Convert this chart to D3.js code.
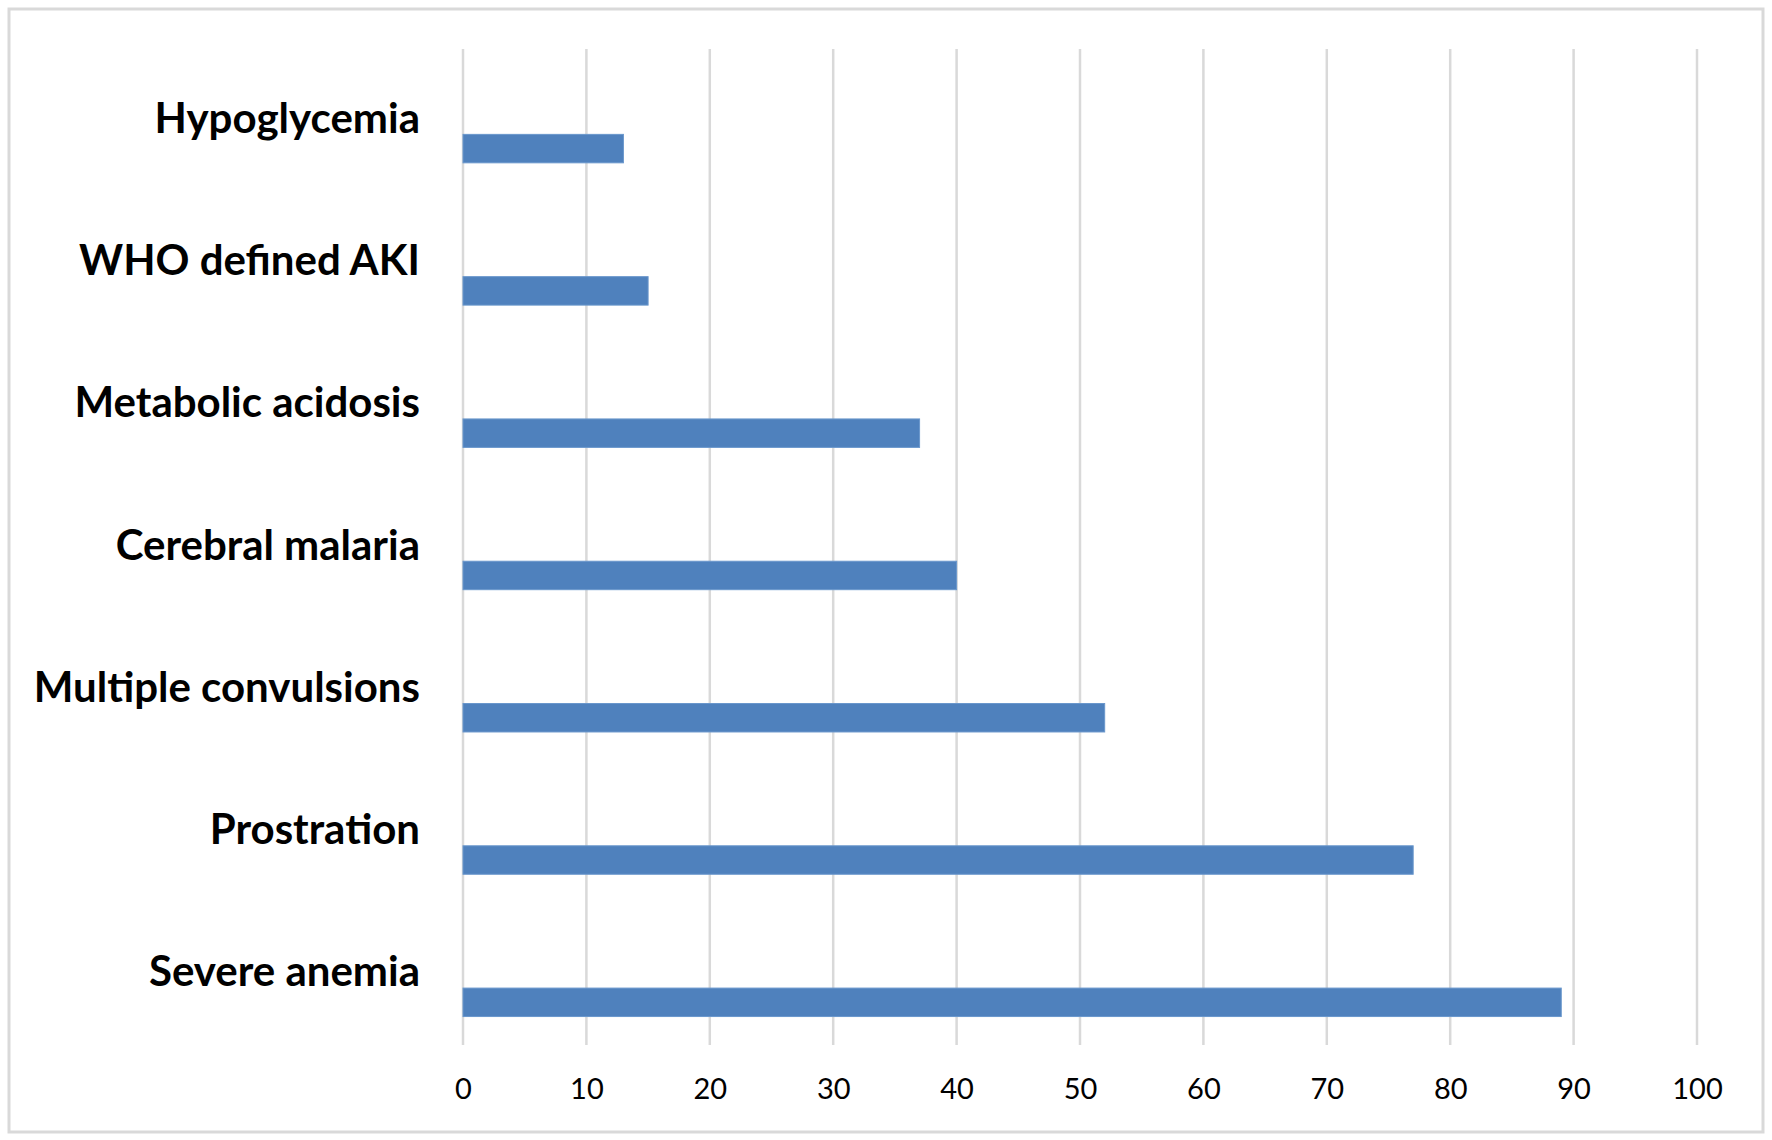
<!DOCTYPE html>
<html>
<head>
<meta charset="utf-8">
<script src="https://cdn.jsdelivr.net/npm/d3@7"></script>
<style>
  body { margin: 0; background: #fff; }
</style>
</head>
<body>
<svg id="chart" width="1772" height="1140"></svg>
<script>
// complications, top to bottom
const categories = ["Hypoglycemia", "WHO defined AKI", "Metabolic acidosis", "Cerebral malaria",
  "Multiple convulsions", "Prostration", "Severe anemia"];
const values = [13, 15, 37, 40, 52, 77, 89];
const xTicks = [0, 10, 20, 30, 40, 50, 60, 70, 80, 90, 100];

const width = 1772, height = 1140;
const margin = { top: 49, right: 75, bottom: 95, left: 463 };

const svg = d3.select("#chart");

// outer frame
svg.append("rect")
  .attr("x", 9).attr("y", 9)
  .attr("width", width - 18).attr("height", height - 17)
  .attr("fill", "none")
  .attr("stroke", "#d9d9d9")
  .attr("stroke-width", 3);

const x = d3.scaleLinear().domain([0, 100]).range([margin.left, width - margin.right]);
const y = d3.scaleBand().domain(categories).range([margin.top, height - margin.bottom]);

// gridlines
svg.append("g")
  .selectAll("line")
  .data(xTicks)
  .join("line")
  .attr("x1", d => x(d)).attr("x2", d => x(d))
  .attr("y1", margin.top).attr("y2", height - margin.bottom)
  .attr("stroke", "#d9d9d9")
  .attr("stroke-width", 2.5);

// bars sit in the lower half of each band
const barOffset = y.bandwidth() * 0.6;
const barH = y.bandwidth() * 0.2;

svg.append("g")
  .selectAll("rect")
  .data(values)
  .join("rect")
  .attr("x", x(0))
  .attr("y", (d, i) => y(categories[i]) + barOffset)
  .attr("width", d => x(d) - x(0))
  .attr("height", barH)
  .attr("fill", "#4f81bd")
  .attr("stroke", "#6a97cc")
  .attr("stroke-width", 1);

// category labels
const yAxis = svg.append("g")
  .attr("transform", `translate(${margin.left - 43},0)`)
  .call(d3.axisLeft(y).tickSize(0).tickPadding(0));
yAxis.select(".domain").remove();
yAxis.selectAll("text")
  .attr("font-family", "Lato, 'Open Sans', sans-serif")
  .attr("font-weight", "bold")
  .attr("font-size", 42)
  .attr("fill", "#000")
  .attr("dy", "0.3em");

// value axis labels
const xAxis = svg.append("g")
  .attr("transform", `translate(0,${height - margin.bottom})`)
  .call(d3.axisBottom(x).tickValues(xTicks).tickSize(0).tickPadding(33));
xAxis.select(".domain").remove();
xAxis.selectAll("text")
  .attr("font-family", "Lato, 'Open Sans', sans-serif")
  .attr("font-size", 29)
  .attr("fill", "#000");
</script>
</body>
</html>
